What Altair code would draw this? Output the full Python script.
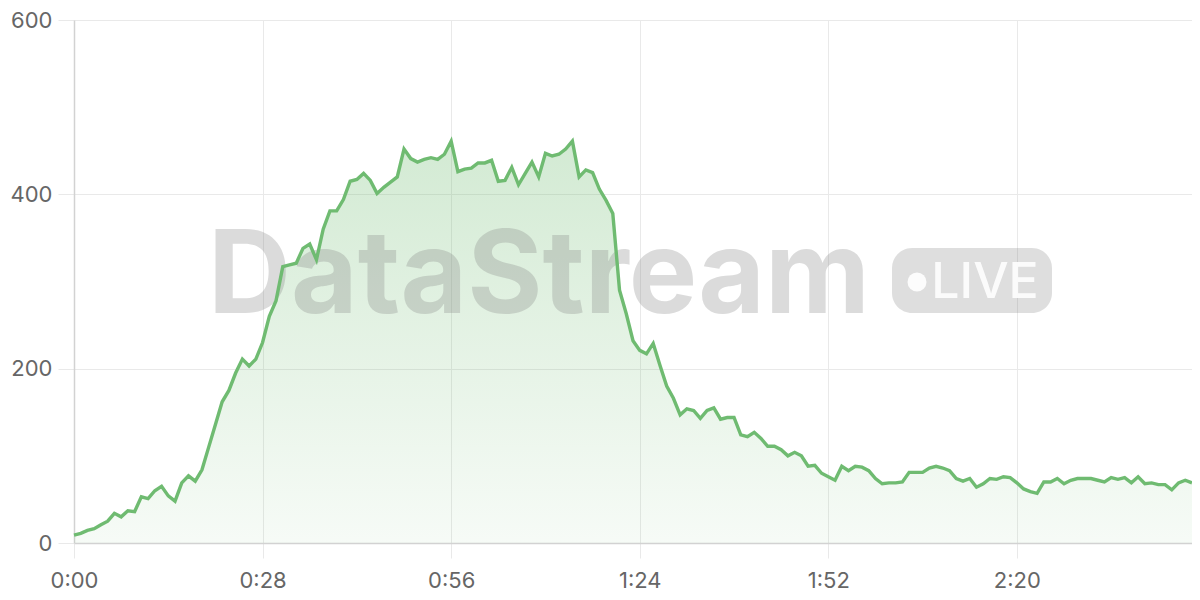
import altair as alt
import pandas as pd

# seconds since start (one sample per second)
seconds = list(range(0, 167))
values = [
    9, 11, 14.5, 16.5, 21, 25, 34, 30, 37, 36,
    53, 51, 60, 65, 54, 48, 69, 77, 71, 84,
    110, 136, 162, 175, 195, 211, 203, 211, 230, 260,
    278, 317, 319, 321, 338, 343, 325, 360, 381, 381,
    394, 415, 417, 424, 416, 401, 408, 414, 420, 452,
    441, 437, 440, 442, 440, 446, 461, 426, 429, 430,
    436, 436, 439, 415, 416, 431, 411, 424, 437, 420,
    447, 444, 446, 452, 461, 420, 428, 425, 406, 393,
    378, 290, 263, 232, 221, 217, 229, 204, 180, 166,
    147, 154, 152, 143, 152, 155, 142, 144, 144, 124,
    122, 127, 120, 111, 111, 107, 100, 104, 100, 88,
    89, 80, 76, 72, 88, 83, 88, 87, 83, 74,
    68, 69, 69, 70, 81, 81, 81, 86, 88, 86,
    83, 74, 71, 74, 64, 68, 74, 73, 76, 75,
    69, 62, 59, 57, 70, 70, 74, 68, 72, 74,
    74, 74, 72, 70, 75, 73, 75, 69, 76, 68,
    69, 67, 67, 61, 69, 72, 69,
]
x_ticks = [0, 28, 56, 84, 112, 140]
y_ticks = [0, 200, 400, 600]
watermark = ["DataStream"]
badge = ["LIVE"]

df = pd.DataFrame({"t": seconds, "v": values})
one = pd.DataFrame({"k": [0]})

FONT = "Inter"
GRID = "#e9e9e9"
LINE = "#6fbb71"

x_enc = alt.X(
    "t:Q",
    scale=alt.Scale(domain=[0, 166], nice=False, zero=False),
    axis=alt.Axis(
        values=x_ticks,
        labelExpr="floor(datum.value/60) + ':' + (datum.value % 60 < 10 ? '0' : '') + (datum.value % 60)",
        grid=True, gridColor=GRID, tickColor=GRID, tickSize=15,
        domainColor="#d2d2d2", domainWidth=1.5,
        labelFont=FONT, labelFontSize=22, labelColor="#666666",
        labelPadding=12, labelFlush=False, title=None,
    ),
)
y_enc = alt.Y(
    "v:Q",
    scale=alt.Scale(domain=[0, 600], nice=False),
    axis=alt.Axis(
        values=y_ticks,
        grid=True, gridColor=GRID, tickColor=GRID, tickSize=16,
        domainColor="#d2d2d2", domainWidth=1.5,
        labelFont=FONT, labelFontSize=22, labelColor="#666666",
        labelPadding=6, title=None,
    ),
)

area = alt.Chart(df).mark_area(
    color=alt.Gradient(
        gradient="linear",
        stops=[
            alt.GradientStop(color="rgba(108,186,110,0.30)", offset=0),
            alt.GradientStop(color="rgba(108,186,110,0.06)", offset=1),
        ],
        x1=1, x2=1, y1=0, y2=1,
    )
).encode(x=x_enc, y=y_enc)

line = alt.Chart(df).mark_line(color=LINE, strokeWidth=3.4).encode(x=x_enc, y=y_enc)

wm_text = alt.Chart(pd.DataFrame({"label": watermark})).mark_text(
    font=FONT, fontSize=115, fontWeight="bold", color="#808080", opacity=0.28,
    align="center", baseline="alphabetic",
).encode(text="label:N", x=alt.value(465), y=alt.value(293))

badge_rect = alt.Chart(one).mark_rect(
    color="#808080", opacity=0.26, cornerRadius=20
).encode(x=alt.value(818), x2=alt.value(978), y=alt.value(228), y2=alt.value(293))

badge_dot = alt.Chart(one).mark_circle(
    color="white", opacity=0.9, size=360
).encode(x=alt.value(843), y=alt.value(262))

badge_text = alt.Chart(pd.DataFrame({"label": badge})).mark_text(
    font=FONT, fontSize=50, fontWeight=500, color="white", opacity=0.9,
    align="center", baseline="alphabetic",
).encode(text="label:N", x=alt.value(911), y=alt.value(278))

chart = alt.layer(
    area, wm_text, badge_rect, badge_dot, badge_text, line
).properties(
    width=1118, height=523,
    autosize=alt.AutoSizeParams(type="none"),
    padding={"left": 66, "top": 12, "right": 0, "bottom": 50},
).configure_view(stroke=None)

chart.save("out.html", embed_options={"renderer": "svg", "actions": False})
